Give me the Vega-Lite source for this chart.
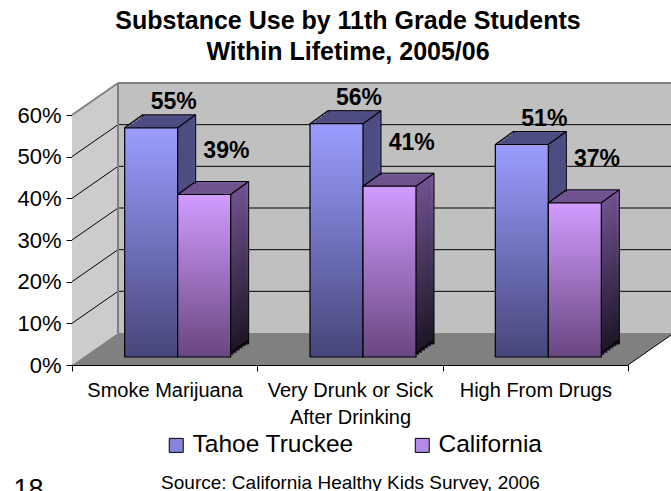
{
  "$schema": "https://vega.github.io/schema/vega-lite/v6.json",
  "width": 556,
  "height": 250,
  "autosize": {"type": "none"},
  "padding": {"left": 72, "top": 115, "right": 43, "bottom": 126},
  "background": "white",
  "config": {
    "font": "Liberation Sans",
    "view": {"stroke": null},
    "axis": {"zindex": 1}
  },
  "title": {
    "text": ["Substance Use by 11th Grade Students", "Within Lifetime, 2005/06"],
    "fontSize": 25,
    "fontWeight": "bold",
    "lineHeight": 31,
    "color": "black",
    "anchor": "middle",
    "frame": "group",
    "offset": 17,
    "dx": -2
  },
  "datasets": {
    "survey": [
      {"category": "Smoke Marijuana", "group": "Tahoe Truckee", "pct": 0.55},
      {"category": "Smoke Marijuana", "group": "California", "pct": 0.39},
      {"category": "Very Drunk or Sick After Drinking", "group": "Tahoe Truckee", "pct": 0.56},
      {"category": "Very Drunk or Sick After Drinking", "group": "California", "pct": 0.41},
      {"category": "High From Drugs", "group": "Tahoe Truckee", "pct": 0.51},
      {"category": "High From Drugs", "group": "California", "pct": 0.37}
    ],
    "gridlines": [
      {"tick": 0.1}, {"tick": 0.2}, {"tick": 0.3}, {"tick": 0.4}, {"tick": 0.5}
    ]
  },
  "layer": [
    {
      "layer": [
        {
          "data": {"values": [{}]},
          "mark": {"type": "rect", "fill": "#C0C0C0", "xOffset": 46, "x2Offset": 46, "yOffset": -32, "y2Offset": -32},
          "encoding": {
            "x": {"datum": 0, "type": "quantitative", "scale": {"domain": [0, 1]}, "axis": null},
            "x2": {"datum": 1},
            "y": {"datum": 0, "type": "quantitative"},
            "y2": {"datum": 0.6}
          }
        },
        {
          "data": {"values": [{}]},
          "mark": {"type": "point", "shape": "M0,0L0,-250L46,-282L46,-32Z", "size": 4, "filled": true, "fill": "#CCCCCC", "strokeWidth": 0, "opacity": 1},
          "encoding": {
            "x": {"datum": 0, "type": "quantitative", "axis": null},
            "y": {"datum": 0, "type": "quantitative"}
          }
        },
        {
          "data": {"values": [{}]},
          "mark": {"type": "point", "shape": "M0,0L46,-32L602,-32L556,0Z", "size": 4, "filled": true, "fill": "#808080", "strokeWidth": 0, "opacity": 1},
          "encoding": {
            "x": {"datum": 0, "type": "quantitative", "axis": null},
            "y": {"datum": 0, "type": "quantitative"}
          }
        },
        {
          "data": {"name": "gridlines"},
          "mark": {"type": "rule", "color": "black", "strokeWidth": 1, "xOffset": 46, "x2Offset": 46, "yOffset": -32},
          "encoding": {
            "x": {"datum": 0, "type": "quantitative", "axis": null},
            "x2": {"datum": 1},
            "y": {"field": "tick", "type": "quantitative"}
          }
        },
        {
          "data": {"name": "gridlines"},
          "mark": {"type": "rule", "color": "black", "strokeWidth": 1, "x2Offset": 46, "y2Offset": -32},
          "encoding": {
            "x": {"datum": 0, "type": "quantitative", "axis": null},
            "x2": {"datum": 0},
            "y": {"field": "tick", "type": "quantitative"},
            "y2": {"field": "tick"}
          }
        },
        {
          "data": {"values": [{}]},
          "mark": {"type": "rule", "color": "#808080", "strokeWidth": 2, "x2Offset": 46, "y2Offset": -32},
          "encoding": {
            "x": {"datum": 0, "type": "quantitative", "axis": null},
            "x2": {"datum": 0},
            "y": {"datum": 0.6, "type": "quantitative"},
            "y2": {"datum": 0.6}
          }
        },
        {
          "data": {"values": [{}]},
          "mark": {"type": "rule", "color": "#808080", "strokeWidth": 2, "xOffset": 46, "x2Offset": 46, "yOffset": -32},
          "encoding": {
            "x": {"datum": 0, "type": "quantitative", "axis": null},
            "x2": {"datum": 1},
            "y": {"datum": 0.6, "type": "quantitative"}
          }
        },
        {
          "data": {"values": [{}]},
          "mark": {"type": "rule", "color": "#808080", "strokeWidth": 2, "xOffset": 46, "yOffset": -32, "y2Offset": -32},
          "encoding": {
            "x": {"datum": 0, "type": "quantitative", "axis": null},
            "y": {"datum": 0, "type": "quantitative"},
            "y2": {"datum": 0.6}
          }
        },
        {
          "data": {"values": [{}]},
          "mark": {"type": "rule", "color": "black", "strokeWidth": 1, "x2Offset": 46, "y2Offset": -32},
          "encoding": {
            "x": {"datum": 1, "type": "quantitative", "axis": null},
            "x2": {"datum": 1},
            "y": {"datum": 0, "type": "quantitative"},
            "y2": {"datum": 0}
          }
        }
      ]
    },
    {
      "data": {"name": "survey"},
      "layer": [
        {
          "transform": [{"filter": "datum.group === 'Tahoe Truckee'"}],
          "mark": {"type": "bar", "width": 53, "xOffset": 4.5, "yOffset": -21, "y2Offset": -25, "fill": "#50508A", "stroke": "black", "strokeWidth": 1},
          "encoding": {
            "x": {
              "field": "category", "type": "nominal", "sort": null,
              "scale": {"paddingInner": 0, "paddingOuter": 0},
              "axis": {
                "title": "Source: California Healthy Kids Survey, 2006",
                "titleY": 123, "titleBaseline": "alphabetic", "titleFontSize": 19, "titleFontWeight": "normal", "titleColor": "black",
                "labelAngle": 0, "labelFontSize": 20, "labelColor": "black", "labelLineHeight": 27,
                "labelExpr": "datum.value === 'Very Drunk or Sick After Drinking' ? ['Very Drunk or Sick', 'After Drinking'] : datum.label",
                "tickBand": "extent", "tickSize": 6, "tickColor": "black", "domainColor": "black",
                "labelPadding": 9, "labelBaseline": "top"
              }
            },
            "y": {
              "field": "pct", "type": "quantitative",
              "scale": {"domain": [0, 0.6], "nice": false},
              "axis": {
                "title": "18", "titleAngle": 0, "titleX": -44, "titleY": 382, "titleAlign": "center", "titleBaseline": "alphabetic",
                "titleFontSize": 27, "titleFontWeight": "normal", "titleColor": "black",
                "format": ".0%", "values": [0, 0.1, 0.2, 0.3, 0.4, 0.5, 0.6], "grid": false,
                "domainColor": "black", "tickColor": "black", "tickSize": 6,
                "labelFontSize": 22, "labelColor": "black", "labelPadding": 5
              }
            }
          }
        },
        {
          "transform": [{"filter": "datum.group === 'Tahoe Truckee'"}],
          "mark": {"type": "bar", "width": 53, "xOffset": 1.5, "yOffset": -18.83, "y2Offset": -22.83, "fill": "#4D4D82"},
          "encoding": {"x": {"field": "category", "type": "nominal", "sort": null}, "y": {"field": "pct", "type": "quantitative"}}
        },
        {
          "transform": [{"filter": "datum.group === 'Tahoe Truckee'"}],
          "mark": {"type": "bar", "width": 53, "xOffset": -1.5, "yOffset": -16.67, "y2Offset": -20.67, "fill": "#4D4D82"},
          "encoding": {"x": {"field": "category", "type": "nominal", "sort": null}, "y": {"field": "pct", "type": "quantitative"}}
        },
        {
          "transform": [{"filter": "datum.group === 'Tahoe Truckee'"}],
          "mark": {"type": "bar", "width": 53, "xOffset": -4.5, "yOffset": -14.5, "y2Offset": -18.5, "fill": "#4D4D82"},
          "encoding": {"x": {"field": "category", "type": "nominal", "sort": null}, "y": {"field": "pct", "type": "quantitative"}}
        },
        {
          "transform": [{"filter": "datum.group === 'Tahoe Truckee'"}],
          "mark": {"type": "bar", "width": 53, "xOffset": -7.5, "yOffset": -12.33, "y2Offset": -16.33, "fill": "#4D4D82"},
          "encoding": {"x": {"field": "category", "type": "nominal", "sort": null}, "y": {"field": "pct", "type": "quantitative"}}
        },
        {
          "transform": [{"filter": "datum.group === 'Tahoe Truckee'"}],
          "mark": {"type": "bar", "width": 53, "xOffset": -10.5, "yOffset": -10.17, "y2Offset": -14.17, "fill": "#4D4D82"},
          "encoding": {"x": {"field": "category", "type": "nominal", "sort": null}, "y": {"field": "pct", "type": "quantitative"}}
        },
        {
          "transform": [{"filter": "datum.group === 'Tahoe Truckee'"}],
          "mark": {
            "type": "bar", "width": 53, "xOffset": -13.5, "yOffset": -8, "y2Offset": -12, "stroke": "black", "strokeWidth": 1.2,
            "fill": {"gradient": "linear", "x1": 0, "y1": 0, "x2": 0, "y2": 1, "stops": [{"offset": 0, "color": "#9C9CFF"}, {"offset": 1, "color": "#46467A"}]}
          },
          "encoding": {"x": {"field": "category", "type": "nominal", "sort": null}, "y": {"field": "pct", "type": "quantitative"}}
        },
        {
          "transform": [{"filter": "datum.group === 'Tahoe Truckee'"}],
          "mark": {"type": "rule", "color": "black", "strokeWidth": 1.2, "xOffset": -40, "x2Offset": -22, "yOffset": -8, "y2Offset": -21},
          "encoding": {"x": {"field": "category", "type": "nominal", "sort": null}, "x2": {"field": "category"}, "y": {"field": "pct", "type": "quantitative"}, "y2": {"field": "pct"}}
        },
        {
          "transform": [{"filter": "datum.group === 'Tahoe Truckee'"}],
          "mark": {"type": "rule", "color": "black", "strokeWidth": 1.2, "xOffset": 13, "x2Offset": 31, "yOffset": -8, "y2Offset": -21},
          "encoding": {"x": {"field": "category", "type": "nominal", "sort": null}, "x2": {"field": "category"}, "y": {"field": "pct", "type": "quantitative"}, "y2": {"field": "pct"}}
        },
        {
          "transform": [{"filter": "datum.group === 'California'"}],
          "mark": {
            "type": "bar", "width": 53, "xOffset": 57.5, "yOffset": -21, "y2Offset": -25, "stroke": "black", "strokeWidth": 1,
            "fill": {"gradient": "linear", "x1": 0, "y1": 0, "x2": 0, "y2": 1, "stops": [{"offset": 0, "color": "#7A5A9E"}, {"offset": 1, "color": "#1C1424"}]}
          },
          "encoding": {"x": {"field": "category", "type": "nominal", "sort": null}, "y": {"field": "pct", "type": "quantitative"}}
        },
        {
          "transform": [{"filter": "datum.group === 'California'"}],
          "mark": {
            "type": "bar", "width": 53, "xOffset": 54.5, "yOffset": -18.83, "y2Offset": -22.83,
            "fill": {"gradient": "linear", "x1": 0, "y1": 0, "x2": 0, "y2": 1, "stops": [{"offset": 0, "color": "#70528F"}, {"offset": 1, "color": "#1C1424"}]}
          },
          "encoding": {"x": {"field": "category", "type": "nominal", "sort": null}, "y": {"field": "pct", "type": "quantitative"}}
        },
        {
          "transform": [{"filter": "datum.group === 'California'"}],
          "mark": {
            "type": "bar", "width": 53, "xOffset": 51.5, "yOffset": -16.67, "y2Offset": -20.67,
            "fill": {"gradient": "linear", "x1": 0, "y1": 0, "x2": 0, "y2": 1, "stops": [{"offset": 0, "color": "#70528F"}, {"offset": 1, "color": "#1C1424"}]}
          },
          "encoding": {"x": {"field": "category", "type": "nominal", "sort": null}, "y": {"field": "pct", "type": "quantitative"}}
        },
        {
          "transform": [{"filter": "datum.group === 'California'"}],
          "mark": {
            "type": "bar", "width": 53, "xOffset": 48.5, "yOffset": -14.5, "y2Offset": -18.5,
            "fill": {"gradient": "linear", "x1": 0, "y1": 0, "x2": 0, "y2": 1, "stops": [{"offset": 0, "color": "#70528F"}, {"offset": 1, "color": "#1C1424"}]}
          },
          "encoding": {"x": {"field": "category", "type": "nominal", "sort": null}, "y": {"field": "pct", "type": "quantitative"}}
        },
        {
          "transform": [{"filter": "datum.group === 'California'"}],
          "mark": {
            "type": "bar", "width": 53, "xOffset": 45.5, "yOffset": -12.33, "y2Offset": -16.33,
            "fill": {"gradient": "linear", "x1": 0, "y1": 0, "x2": 0, "y2": 1, "stops": [{"offset": 0, "color": "#70528F"}, {"offset": 1, "color": "#1C1424"}]}
          },
          "encoding": {"x": {"field": "category", "type": "nominal", "sort": null}, "y": {"field": "pct", "type": "quantitative"}}
        },
        {
          "transform": [{"filter": "datum.group === 'California'"}],
          "mark": {
            "type": "bar", "width": 53, "xOffset": 42.5, "yOffset": -10.17, "y2Offset": -14.17,
            "fill": {"gradient": "linear", "x1": 0, "y1": 0, "x2": 0, "y2": 1, "stops": [{"offset": 0, "color": "#70528F"}, {"offset": 1, "color": "#1C1424"}]}
          },
          "encoding": {"x": {"field": "category", "type": "nominal", "sort": null}, "y": {"field": "pct", "type": "quantitative"}}
        },
        {
          "transform": [{"filter": "datum.group === 'California'"}],
          "mark": {
            "type": "bar", "width": 53, "xOffset": 39.5, "yOffset": -8, "y2Offset": -12, "stroke": "black", "strokeWidth": 1.2,
            "fill": {"gradient": "linear", "x1": 0, "y1": 0, "x2": 0, "y2": 1, "stops": [{"offset": 0, "color": "#D29CFF"}, {"offset": 1, "color": "#684680"}]}
          },
          "encoding": {"x": {"field": "category", "type": "nominal", "sort": null}, "y": {"field": "pct", "type": "quantitative"}}
        },
        {
          "transform": [{"filter": "datum.group === 'California'"}],
          "mark": {"type": "rule", "color": "black", "strokeWidth": 1.2, "xOffset": 13, "x2Offset": 31, "yOffset": -8, "y2Offset": -21},
          "encoding": {"x": {"field": "category", "type": "nominal", "sort": null}, "x2": {"field": "category"}, "y": {"field": "pct", "type": "quantitative"}, "y2": {"field": "pct"}}
        },
        {
          "transform": [{"filter": "datum.group === 'California'"}],
          "mark": {"type": "rule", "color": "black", "strokeWidth": 1.2, "xOffset": 66, "x2Offset": 84, "yOffset": -8, "y2Offset": -21},
          "encoding": {"x": {"field": "category", "type": "nominal", "sort": null}, "x2": {"field": "category"}, "y": {"field": "pct", "type": "quantitative"}, "y2": {"field": "pct"}}
        },
        {
          "transform": [{"filter": "datum.group === 'California'"}],
          "mark": {"type": "rule", "color": "black", "strokeWidth": 1.2, "xOffset": 66, "x2Offset": 84, "yOffset": -12, "y2Offset": -25},
          "encoding": {"x": {"field": "category", "type": "nominal", "sort": null}, "x2": {"field": "category"}, "y": {"datum": 0, "type": "quantitative"}, "y2": {"datum": 0}}
        },
        {
          "transform": [{"filter": "datum.group === 'Tahoe Truckee'"}],
          "mark": {"type": "text", "dx": 9, "dy": -27, "fontSize": 23, "fontWeight": "bold", "color": "black", "align": "center", "baseline": "alphabetic"},
          "encoding": {"x": {"field": "category", "type": "nominal", "sort": null}, "y": {"field": "pct", "type": "quantitative"}, "text": {"field": "pct", "type": "quantitative", "format": ".0%"}}
        },
        {
          "transform": [{"filter": "datum.group === 'California'"}],
          "mark": {"type": "text", "dx": 61.7, "dy": -44.5, "fontSize": 23, "fontWeight": "bold", "color": "black", "align": "center", "baseline": "alphabetic"},
          "encoding": {"x": {"field": "category", "type": "nominal", "sort": null}, "y": {"field": "pct", "type": "quantitative"}, "text": {"field": "pct", "type": "quantitative", "format": ".0%"}}
        },
        {
          "mark": {"type": "point", "shape": "square", "filled": true, "size": 0, "strokeWidth": 0},
          "encoding": {
            "x": {"field": "category", "type": "nominal", "sort": null},
            "y": {"field": "pct", "type": "quantitative"},
            "color": {
              "field": "group", "type": "nominal",
              "scale": {"domain": ["Tahoe Truckee", "California"], "range": ["#8585DD", "#B48AE8"]},
              "legend": {
                "title": null, "orient": "none", "legendX": 92, "legendY": 318,
                "direction": "horizontal", "columns": 2, "columnPadding": 56, "padding": 0,
                "symbolType": "square", "symbolSize": 196, "symbolStrokeColor": "black", "symbolStrokeWidth": 1, "symbolOpacity": 1,
                "labelFontSize": 24.5, "labelLimit": 300, "labelColor": "black", "labelOffset": 4, "labelFont": "Liberation Sans"
              }
            }
          }
        }
      ]
    }
  ],
  "resolve": {"scale": {"x": "independent"}}
}
